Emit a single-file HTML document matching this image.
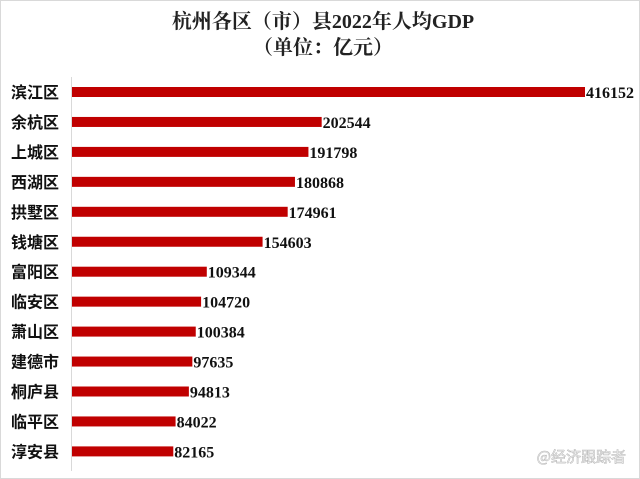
<!DOCTYPE html>
<html><head><meta charset="utf-8"><style>
body{margin:0;background:#fff}
#c{position:relative;width:640px;height:479px;overflow:hidden;background:#fff;box-sizing:border-box;border:1px solid #d9d9d9}
</style></head><body>
<div id="c">
<svg id="s" width="640" height="479">
<text x="322" y="27" text-anchor="middle" font-family="Liberation Serif,'Noto Serif CJK SC',serif" font-weight="bold" font-size="20" fill="#222">杭州各区（市）县2022年人均GDP</text>
<text x="322" y="53" text-anchor="middle" font-family="Liberation Serif,'Noto Serif CJK SC',serif" font-weight="bold" font-size="20" fill="#222">（单位：亿元）</text>
<line x1="70.5" y1="76" x2="70.5" y2="470" stroke="#d9d9d9"/>
<g id="bars"></g>
<text x="625" y="461" text-anchor="end" font-family="'Noto Sans CJK SC',sans-serif" font-size="15" fill="#fff" stroke="#bbb" stroke-width="0.6">@经济跟踪者</text>
</svg>
</div>
<script>
const categories=["滨江区","余杭区","上城区","西湖区","拱墅区","钱塘区","富阳区","临安区","萧山区","建德市","桐庐县","临平区","淳安县"];
const values=[416152,202544,191798,180868,174961,154603,109344,104720,100384,97635,94813,84022,82165];
const ns="http://www.w3.org/2000/svg";
const g=document.getElementById("bars");
const x0=71,scale=513/416152;
const xs=v=>x0+v*scale;
const yc=i=>91+i*29.95;
categories.forEach((c,i)=>{
  const r=document.createElementNS(ns,"rect");
  r.setAttribute("x",x0);r.setAttribute("y",yc(i)-5);
  r.setAttribute("width",xs(values[i])-x0);r.setAttribute("height",10);
  r.setAttribute("fill","#c00000");
  
  
  g.appendChild(r);
  const t=document.createElementNS(ns,"text");
  t.setAttribute("x",10);t.setAttribute("y",yc(i)+6);
  t.setAttribute("font-family","'Noto Sans CJK SC',sans-serif");
  t.setAttribute("font-weight","bold");t.setAttribute("font-size","16");t.setAttribute("fill","#111");
  t.textContent=c;
  
  
  g.appendChild(t);
  const v=document.createElementNS(ns,"text");
  v.setAttribute("x",xs(values[i])+1);v.setAttribute("y",yc(i)+6);
  v.setAttribute("font-family","'Liberation Serif',serif");
  v.setAttribute("font-weight","bold");v.setAttribute("font-size","16");v.setAttribute("fill","#111");
  v.textContent=values[i];
  
  
  g.appendChild(v);
});
</script>
</body></html>
